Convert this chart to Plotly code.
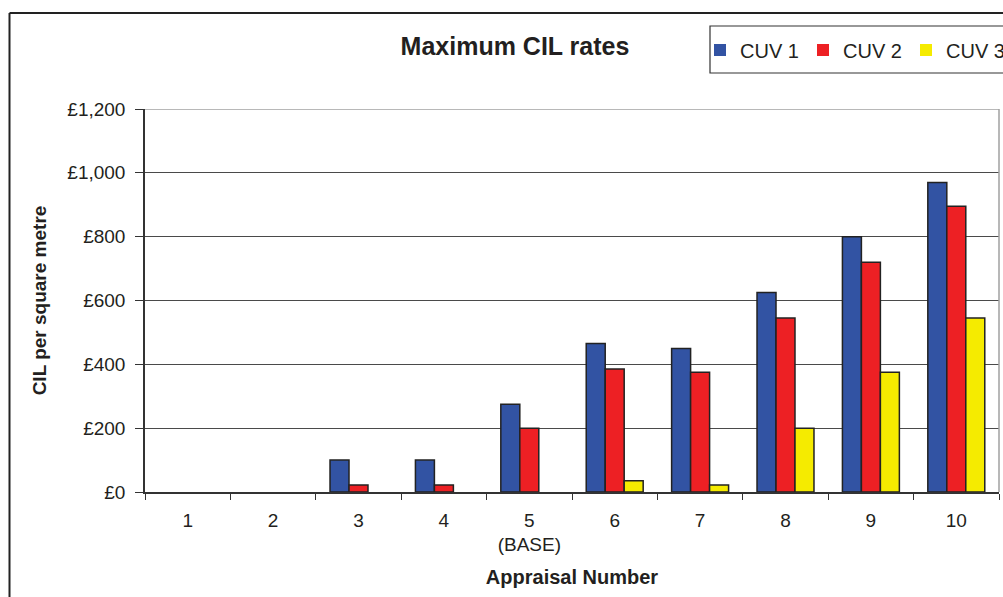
import plotly.graph_objects as go

# Appraisal categories (appraisal 5 is the base case)
appraisals = ["1", "2", "3", "4", "5<br>(BASE)", "6", "7", "8", "9", "10"]

# Maximum CIL per square metre, by charging-use value band
cuv1 = [0, 0, 100, 100, 275, 465, 450, 625, 800, 970]
cuv2 = [0, 0, 22, 22, 200, 385, 375, 545, 720, 895]
cuv3 = [0, 0, 0, 0, 0, 35, 22, 200, 375, 545]

series_names = ["CUV 1", "CUV 2", "CUV 3"]
series_values = [cuv1, cuv2, cuv3]
series_colors = ["#3253A3", "#ED2024", "#F5EB00"]

y_ticks = [0, 200, 400, 600, 800, 1000, 1200]
y_tick_labels = ["£0", "£200", "£400", "£600", "£800", "£1,000", "£1,200"]

FONT = "Arial, 'Liberation Sans', sans-serif"
INK = "#231F20"

W, H = 1003, 597
ML, MR, MT, MB = 145, 4, 109, 105
PW, PH = W - ML - MR, H - MT - MB


def px_x(px):
    """Convert a pixel x position into paper coordinates."""
    return (px - ML) / PW


def px_y(py):
    """Convert a pixel y position (from top) into paper coordinates."""
    return (H - MB - py) / PH


fig = go.Figure()
for name, vals, col in zip(series_names, series_values, series_colors):
    fig.add_trace(go.Bar(
        name=name,
        x=appraisals,
        y=vals,
        marker=dict(
            color=col,
            # no outline on empty (zero) bars
            line=dict(color="#222222",
                      width=[1.5 if v > 0 else 0 for v in vals]),
        ),
    ))

shapes = [
    # outer chart frame (top and left edges)
    dict(type="line", xref="paper", yref="paper",
         x0=px_x(9.5), x1=px_x(1010), y0=px_y(13), y1=px_y(13),
         line=dict(color="#222222", width=2)),
    dict(type="line", xref="paper", yref="paper",
         x0=px_x(9.5), x1=px_x(9.5), y0=px_y(13), y1=px_y(610),
         line=dict(color="#222222", width=2)),
    # plot area border: top and right in grey
    dict(type="line", xref="paper", yref="y",
         x0=0, x1=1, y0=1200, y1=1200,
         line=dict(color="#A0A0A0", width=1.5), layer="above"),
    dict(type="line", xref="paper", yref="y",
         x0=1, x1=1, y0=0, y1=1200,
         line=dict(color="#A0A0A0", width=1.5), layer="above"),
    # legend box
    dict(type="rect", xref="paper", yref="paper",
         x0=px_x(710), x1=px_x(1015), y0=px_y(73), y1=px_y(26),
         line=dict(color="#333333", width=1.2), fillcolor="white", layer="below"),
]

fig.update_layout(
    width=W, height=H,
    margin=dict(l=ML, r=MR, t=MT, b=MB, autoexpand=False),
    paper_bgcolor="white",
    plot_bgcolor="white",
    font=dict(family=FONT, color=INK, size=19),
    title=dict(
        text="<b>Maximum CIL rates</b>",
        font=dict(family=FONT, size=25, color=INK),
        x=515 / W, xref="container", xanchor="center",
        y=1 - 46 / H, yref="container", yanchor="middle",
    ),
    barmode="group",
    bargap=0.333,
    bargroupgap=0,
    showlegend=True,
    legend=dict(
        orientation="h",
        x=px_x(700), xanchor="left",
        y=px_y(50), yanchor="middle",
        bgcolor="rgba(0,0,0,0)",
        borderwidth=0,
        font=dict(family=FONT, size=20, color=INK),
        entrywidth=58,
        entrywidthmode="pixels",
    ),
    shapes=shapes,
    xaxis=dict(
        type="category",
        showline=True, linecolor="#333333", linewidth=1.5,
        ticks="outside", ticklen=6, tickcolor="#333333", tickwidth=1.2,
        tickson="boundaries",
        ticklabelstandoff=10,
        showgrid=False,
        tickfont=dict(family=FONT, size=19, color=INK),
        title=dict(text="<b>Appraisal Number</b>",
                   font=dict(family=FONT, size=20, color=INK),
                   standoff=16),
    ),
    yaxis=dict(
        range=[0, 1200],
        tickvals=y_ticks,
        ticktext=y_tick_labels,
        showline=True, linecolor="#333333", linewidth=1.5,
        ticks="outside", ticklen=8, tickcolor="#333333", tickwidth=1.2,
        ticklabelstandoff=6,
        showgrid=True, gridcolor="#4A4A4A", gridwidth=1,
        zeroline=False,
        tickfont=dict(family=FONT, size=19, color=INK),
        title=dict(text="<b>CIL per square metre</b>",
                   font=dict(family=FONT, size=19, color=INK),
                   standoff=16),
    ),
)

fig.write_html("out.html")
